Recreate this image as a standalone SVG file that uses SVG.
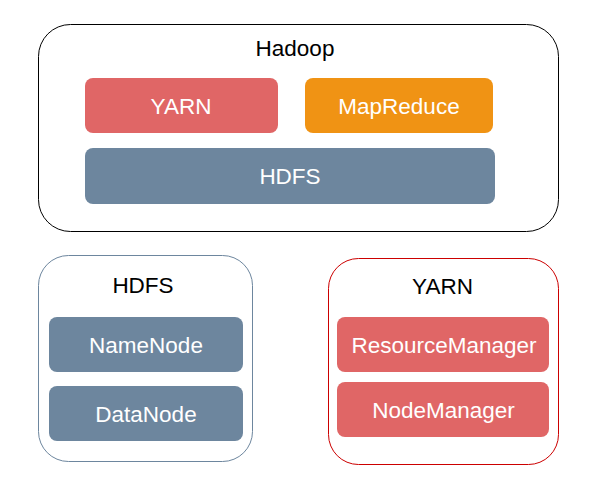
<svg xmlns="http://www.w3.org/2000/svg" width="598" height="481" viewBox="0 0 598 481">
<style>
text{font-family:"Liberation Sans",Arial,sans-serif;text-anchor:middle;dominant-baseline:central}
.t{fill:#000;font-size:22.5px}
.w{fill:#fff;font-size:22.5px}
.red{fill:#e06666}
.org{fill:#f09314}
.blue{fill:#6d869e}
</style>
<rect width="598" height="481" fill="#fff"/>
<g id="hadoop">
<rect x="38.5" y="24.5" width="520" height="207" rx="32" fill="#fff" stroke="#000" stroke-width="1"/>
<text class="t" x="295" y="48">Hadoop</text>
</g>
<g id="yarn-top"><rect class="red" x="85" y="78" width="193" height="55" rx="8"/><text class="w" x="181" y="106">YARN</text></g>
<g id="mapreduce"><rect class="org" x="305" y="78" width="188" height="55" rx="8"/><text class="w" x="399" y="106">MapReduce</text></g>
<g id="hdfs-top"><rect class="blue" x="85" y="148" width="410" height="56" rx="8"/><text class="w" x="290" y="176">HDFS</text></g>
<g id="hdfs">
<rect x="38.5" y="255.5" width="214" height="206" rx="30" fill="#fff" stroke="#6d869e" stroke-width="1"/>
<text class="t" x="143" y="285">HDFS</text>
</g>
<g id="namenode"><rect class="blue" x="49" y="317" width="194" height="55" rx="8"/><text class="w" x="146" y="345">NameNode</text></g>
<g id="datanode"><rect class="blue" x="49" y="386" width="194" height="55" rx="8"/><text class="w" x="146" y="414">DataNode</text></g>
<g id="yarn">
<rect x="328.5" y="258.5" width="230" height="206" rx="30" fill="#fff" stroke="#cc0000" stroke-width="1"/>
<text class="t" x="442.5" y="286">YARN</text>
</g>
<g id="resourcemanager"><rect class="red" x="337" y="317" width="212" height="55" rx="8"/><text class="w" x="444" y="345">ResourceManager</text></g>
<g id="nodemanager"><rect class="red" x="337" y="382" width="212" height="55" rx="8"/><text class="w" x="443.5" y="410">NodeManager</text></g>
<g id="connectors"/>
</svg>
